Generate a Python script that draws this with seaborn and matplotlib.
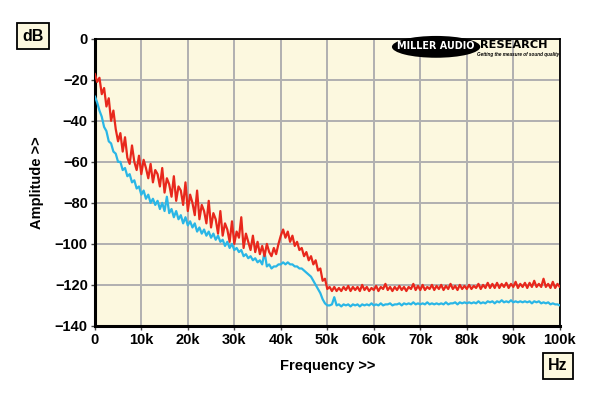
import numpy as np
import pandas as pd
import matplotlib
matplotlib.use('Agg')
import matplotlib.pyplot as plt
from matplotlib.patches import Ellipse
import seaborn as sns

# spectrum, one value every 0.5 kHz (10 values = 5 kHz per row)
red_db = [
    -17, -21, -19, -27, -24, -33, -29, -40, -35, -44,
    -50, -46, -55, -48, -58, -61, -52, -60, -64, -57,
    -66, -59, -63, -68, -61, -70, -64, -66, -72, -63,
    -75, -68, -71, -77, -67, -79, -72, -74, -81, -70,
    -84, -76, -80, -86, -74, -88, -81, -84, -90, -79,
    -92, -85, -88, -95, -84, -96, -90, -93, -99, -89,
    -100, -94, -97, -87, -102, -95, -99, -103, -96, -104,
    -99, -105, -101, -106, -100, -104, -106, -102, -105, -100,
    -96, -93, -97, -94, -99, -96, -101, -99, -103, -102,
    -106, -104, -108, -106, -110, -108, -113, -112, -118, -117,
    -122, -121, -123, -121, -123, -121.5, -123, -121, -122.5, -120.5,
    -123, -121, -122.5, -121, -123, -120, -122.5, -121, -123, -121.5,
    -122.5, -120.5, -123, -121, -122, -119.5, -122.5, -121, -123, -121,
    -122.5, -120.5, -122.5, -121, -123, -121, -122, -119.5, -122.5, -120.5,
    -122.5, -120, -122.5, -121, -122, -120, -122.5, -120.5, -122, -120,
    -122.5, -120.5, -122, -119.5, -122, -120.5, -122.5, -120, -122, -120.5,
    -122, -120, -122, -120.5, -121.5, -119.5, -122, -120, -121.5, -119,
    -121.5, -119.5, -121.5, -119, -121.5, -119.5, -121, -119, -121.5, -119.5,
    -121, -118.5, -121.5, -119.5, -121, -119, -121.5, -119, -121, -118,
    -121, -119.5, -121, -117, -121, -119.5, -121.5, -118.5, -121.5, -119.5,
    -121,
]

blue_db = [
    -28, -31, -35, -38, -43, -45, -50, -51, -55, -56,
    -60, -60, -64, -63, -67, -66, -70, -69, -73, -72,
    -76, -74, -78, -76, -80, -78, -81, -79, -83, -80,
    -84, -77, -85, -83, -87, -84, -88, -86, -90, -87,
    -91, -89, -92, -90, -94, -92, -95, -93, -96, -94,
    -97, -95, -98, -96, -99, -98, -101, -99, -102, -100,
    -103, -102, -104, -103, -106, -105, -107, -106, -108, -107,
    -109, -108, -110, -104, -111, -110, -112, -111, -111, -110,
    -110, -109, -110, -109, -110, -110, -111, -111, -112, -112,
    -113, -114, -115, -116, -118, -120, -122, -124, -127, -129,
    -130, -130, -129.5, -126, -130, -129.5, -130.5, -129.5, -130, -129.5,
    -130.5, -129.5, -130, -129.5, -130.5, -129.5, -130, -129.5, -130, -129,
    -130, -129.5, -130, -129, -130, -129.5, -129.5, -129, -130, -129.5,
    -129.5, -129, -130, -129, -129.5, -129, -129.5, -128.5, -129.5, -129,
    -129.5, -129, -129.5, -128.5, -129.5, -129, -129.5, -129, -129.5, -129,
    -129.5, -128.5, -129.5, -129, -129, -128.5, -129.5, -128.5, -129, -128.5,
    -129, -128.5, -129, -128.5, -129, -128, -129, -128.5, -129, -128,
    -128.5, -128, -129, -128, -128.5, -127.5, -128.5, -128, -128.5, -127.5,
    -128.5, -128, -128.5, -128, -128.5, -128, -128.5, -128, -129, -128,
    -128.5, -128, -129, -128.5, -129, -128.5, -129.5, -129, -129.5, -129.5,
    -130,
]

freq_hz = np.arange(len(red_db)) * 500.0

x_ticks = [0, 10000, 20000, 30000, 40000, 50000, 60000, 70000, 80000, 90000, 100000]
x_labels = ['0', '10k', '20k', '30k', '40k', '50k', '60k', '70k', '80k', '90k', '100k']
y_ticks = [0, -20, -40, -60, -80, -100, -120, -140]

df = pd.DataFrame({
    'freq': np.concatenate([freq_hz, freq_hz]),
    'db': red_db + blue_db,
    'trace': ['red'] * len(red_db) + ['blue'] * len(blue_db),
})

sns.set_style('white')
plt.rcParams['font.family'] = ['Liberation Sans', 'DejaVu Sans']
plt.rcParams['font.weight'] = 'bold'
plt.rcParams['text.color'] = 'black'
plt.rcParams['axes.labelcolor'] = 'black'
plt.rcParams['xtick.color'] = 'black'
plt.rcParams['ytick.color'] = 'black'

fig = plt.figure(figsize=(6, 3.96), dpi=100)
ax = fig.add_axes([0.158, 0.177, 0.775, 0.725])
ax.set_facecolor('#fcf8df')

sns.lineplot(data=df, x='freq', y='db', hue='trace',
             palette={'red': '#e8281c', 'blue': '#2ab6e6'},
             hue_order=['blue', 'red'], linewidth=1.6, legend=False, ax=ax, zorder=3)

ax.set_xlim(0, 100000)
ax.set_ylim(-140, 0)
ax.set_xticks(x_ticks)
ax.set_xticklabels(x_labels)
ax.set_yticks(y_ticks)
ax.grid(True, color='#b0b0b0', linewidth=1.4)
ax.set_axisbelow(True)
ax.tick_params(axis='both', direction='out', length=3, width=1, color='#444444',
               labelcolor='black', labelsize=10.5, pad=2, left=True, bottom=True)
for lab in ax.get_xticklabels() + ax.get_yticklabels():
    lab.set_fontweight('bold')

for side in ['left', 'bottom']:
    ax.spines[side].set_linewidth(2.2)
    ax.spines[side].set_color('black')
for side in ['top', 'right']:
    ax.spines[side].set_linewidth(1.3)
    ax.spines[side].set_color('black')

ax.set_xlabel('Frequency >>', fontsize=10.5, fontweight='bold', labelpad=9, color='black')
ax.set_ylabel('Amplitude >>', fontsize=10.5, fontweight='bold', labelpad=8, color='black')

box = dict(boxstyle='square,pad=0.35', facecolor='#fcf8df', edgecolor='black', linewidth=1.3)
fig.text(0.055, 0.909, 'dB', fontsize=11.5, fontweight='bold', ha='center', va='center',
         color='black', bbox=box)
fig.text(0.93, 0.076, 'Hz', fontsize=11.5, fontweight='bold', ha='center', va='center',
         color='black', bbox=box)

# logo
ax.add_patch(Ellipse((0.734, 0.972), 0.19, 0.076, transform=ax.transAxes,
                     facecolor='black', edgecolor='none', zorder=4, clip_on=False))
ax.text(0.734, 0.974, 'MILLER AUDIO', transform=ax.transAxes, color='white',
        fontsize=6.9, fontweight='heavy', family='DejaVu Sans',
        ha='center', va='center', zorder=5)
ax.text(0.829, 0.98, 'RESEARCH', transform=ax.transAxes, color='black',
        fontsize=8.2, fontweight='heavy', family='DejaVu Sans',
        ha='left', va='center', zorder=5)
ax.text(0.998, 0.944, 'Getting the measure of sound quality', transform=ax.transAxes,
        color='black', fontsize=3.3, fontweight='bold', style='italic',
        ha='right', va='center', zorder=5)

fig.savefig('out.png', dpi=100, facecolor='white')
